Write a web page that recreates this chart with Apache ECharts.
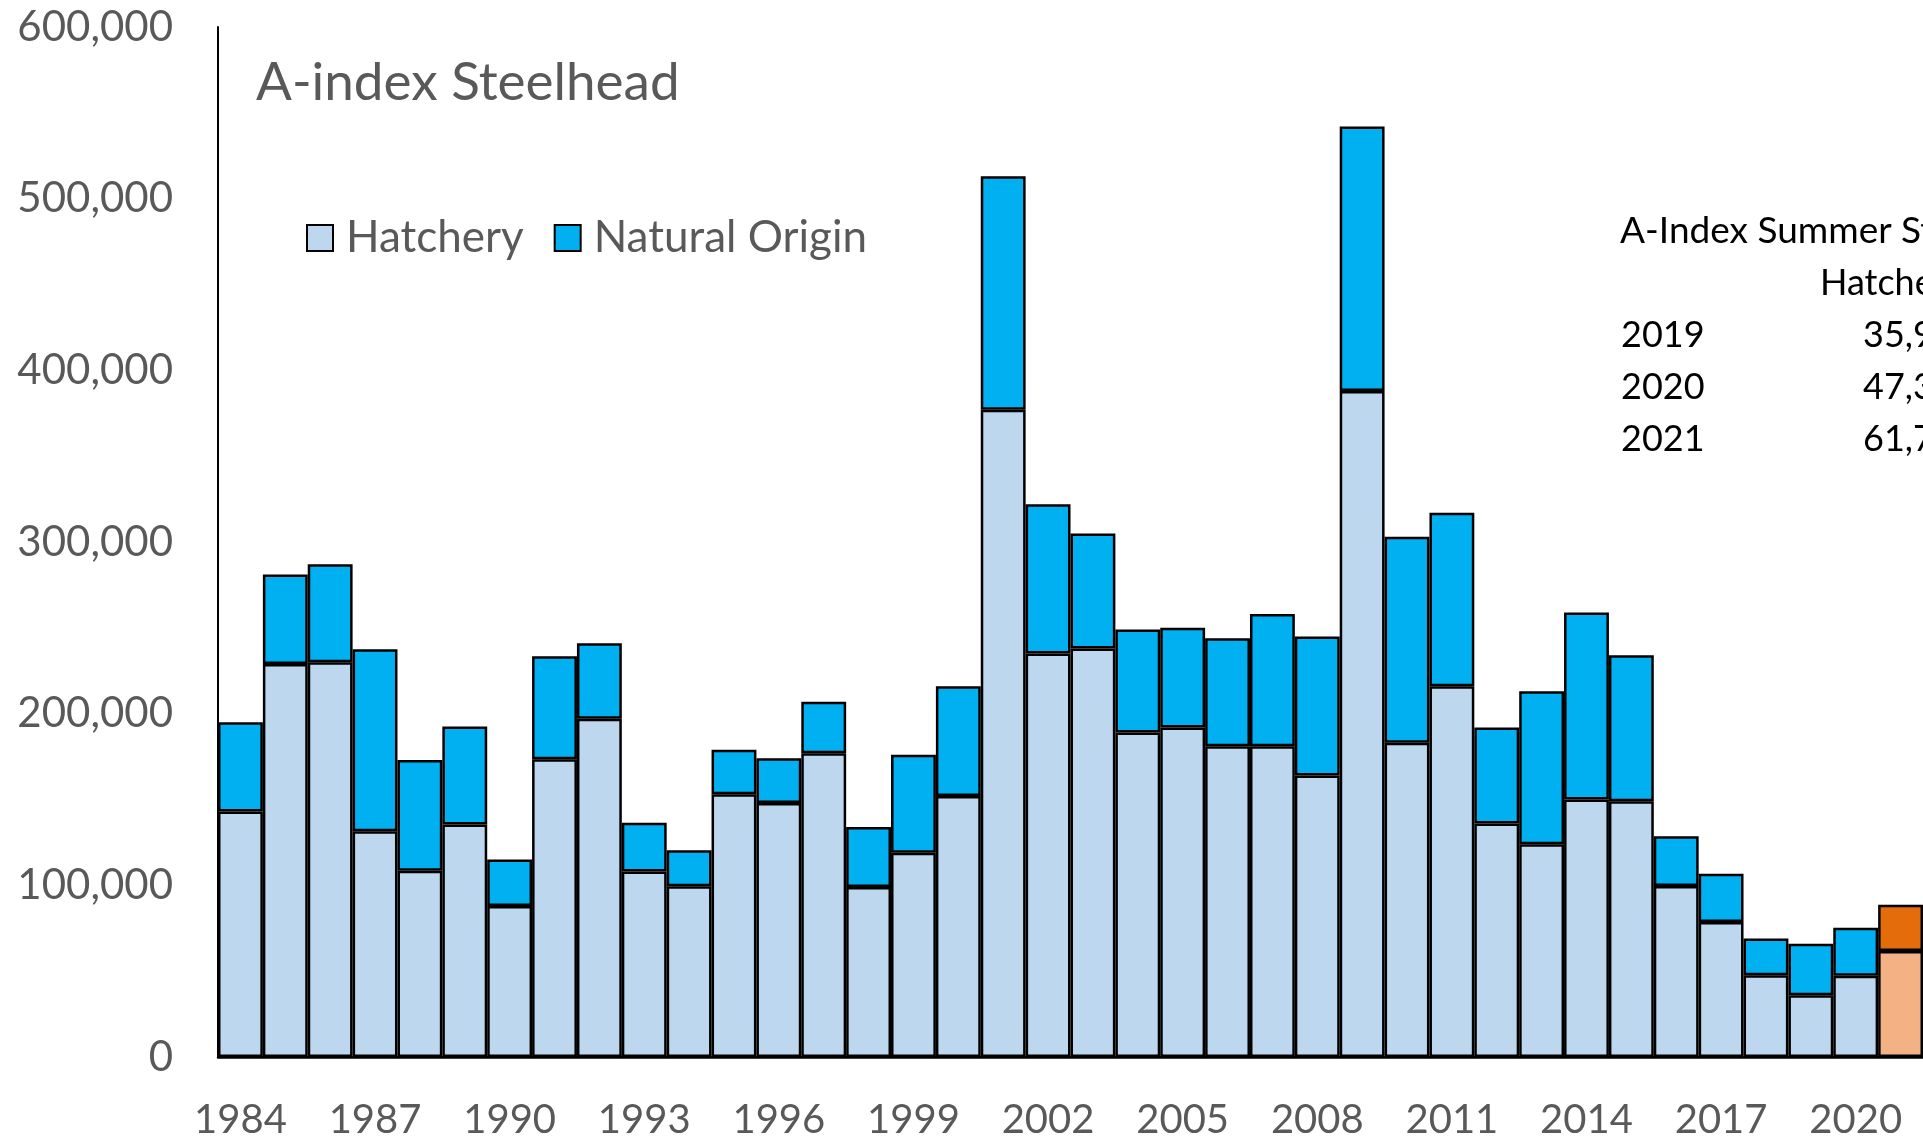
<!DOCTYPE html>
<html>
<head>
<meta charset="utf-8">
<script src="https://cdn.jsdelivr.net/npm/echarts@6/dist/echarts.min.js"></script>
<style>
  html, body { margin: 0; padding: 0; background: #fff; }
  #chart { width: 1923px; height: 1142px; }
</style>
</head>
<body>
<div id="chart"></div>
<script>
// run years, one bar each
const years = [
  "1984", "1985", "1986", "1987", "1988", "1989", "1990", "1991", "1992", "1993",
  "1994", "1995", "1996", "1997", "1998", "1999", "2000", "2001", "2002", "2003",
  "2004", "2005", "2006", "2007", "2008", "2009", "2010", "2011", "2012", "2013",
  "2014", "2015", "2016", "2017", "2018", "2019", "2020", "2021"
];
// hatchery fish (lower part of the bar)
const hatchery = [
  143000, 229000, 230000, 131500, 108500, 135500, 88000, 173500, 197000, 108000,
  99500, 153000, 148000, 177000, 99000, 119000, 152000, 377000, 235000, 238000,
  189000, 192000, 181000, 181000, 164000, 388000, 183000, 216000, 136000, 124000,
  150000, 149000, 99600, 78700, 47600, 35930, 47340, 61720
];
// natural origin fish (upper part of the bar)
const natural = [
  52000, 52000, 57000, 106000, 64500, 57000, 27000, 60000, 44000, 28500,
  21000, 26000, 26000, 30000, 35000, 57000, 64000, 136000, 87000, 67000,
  60000, 58000, 63000, 77000, 81000, 154000, 120000, 101000, 56000, 89000,
  109000, 85000, 29000, 28000, 21500, 30000, 28000, 27000
];
const yTicks = [0, 100000, 200000, 300000, 400000, 500000, 600000];
const tableYears = ["2019", "2020", "2021"];

const chart = echarts.init(document.getElementById("chart"));

const fmt = (v) => v.toLocaleString("en-US");
const last = years.length - 1;

// 2021 is drawn in orange
const hatchData = hatchery.map((v, i) =>
  i === last ? { value: v, itemStyle: { color: "#F4B183" } } : v
);
const naturalData = natural.map((v, i) =>
  i === last ? { value: v, itemStyle: { color: "#E46C0A" } } : v
);

// little summary table on the right, text only
const tableTexts = [
  { style: { text: "A-Index Summer Steelhead", x: 1620, y: 231, fontSize: 37 } },
  { style: { text: "Hatchery", x: 1820, y: 283 } }
];
tableYears.forEach((yr, k) => {
  const idx = years.indexOf(yr);
  const y = 335 + k * 52;
  tableTexts.push({ style: { text: yr, x: 1621, y: y } });
  tableTexts.push({ style: { text: fmt(hatchery[idx]), x: 1863, y: y } });
});

const option = {
  animation: false,
  backgroundColor: "#fff",
  textStyle: { fontFamily: "Lato" },
  title: {
    text: "A-index Steelhead",
    left: 251,
    top: 51,
    textStyle: {
      fontFamily: "Lato",
      fontSize: 53,
      fontWeight: "normal",
      color: "#595959",
    },
  },
  legend: {
    left: 301,
    top: 211,
    icon: "rect",
    itemWidth: 26,
    itemHeight: 26,
    itemGap: 30,
    textStyle: {
      fontFamily: "Lato",
      fontSize: 44,
      color: "#595959",
      padding: [0, 0, 0, 8],
    },
    data: ["Hatchery", "Natural Origin"],
  },
  grid: {
    left: 218,
    right: -5,
    top: 27,
    bottom: 85,
    containLabel: false,
  },
  xAxis: {
    type: "category",
    data: years,
    axisLine: { lineStyle: { color: "#000", width: 2.5 } },
    axisTick: { show: false },
    axisLabel: {
      interval: 2,
      fontFamily: "Lato",
      fontSize: 40,
      color: "#595959",
      margin: 43,
    },
  },
  yAxis: {
    type: "value",
    min: yTicks[0],
    max: yTicks[yTicks.length - 1],
    interval: 100000,
    axisLine: { show: true, lineStyle: { color: "#000", width: 2 } },
    axisTick: { show: false },
    splitLine: { show: false },
    axisLabel: {
      fontFamily: "Lato",
      fontSize: 42,
      color: "#595959",
      margin: 45,
      formatter: (v) => fmt(v),
    },
  },
  series: [
    {
      name: "Hatchery",
      type: "bar",
      stack: "total",
      barCategoryGap: "0%",
      itemStyle: { color: "#BDD7EE", borderColor: "#000", borderWidth: 2.5 },
      data: hatchData,
    },
    {
      name: "Natural Origin",
      type: "bar",
      stack: "total",
      barCategoryGap: "0%",
      itemStyle: { color: "#00B0F0", borderColor: "#000", borderWidth: 2.5 },
      data: naturalData,
    },
  ],
  graphic: tableTexts.map((t) => ({
    type: "text",
    style: Object.assign(
      {
        fontFamily: "Lato",
        fontSize: 36,
        fill: "#000",
        verticalAlign: "middle",
      },
      t.style
    ),
  })),
};

chart.setOption(option);
</script>
</body>
</html>
